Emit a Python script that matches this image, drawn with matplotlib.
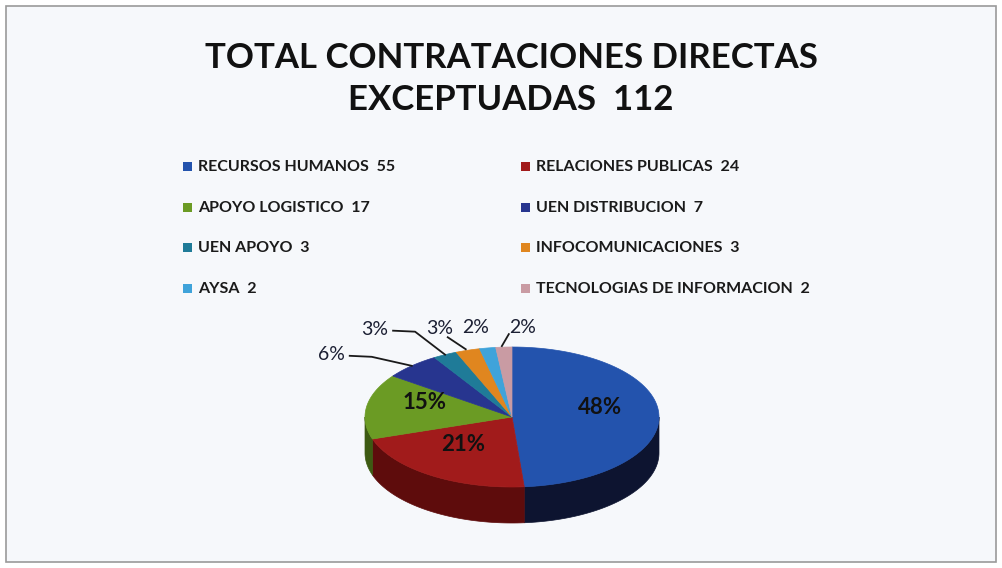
import numpy as np
import matplotlib.pyplot as plt
from matplotlib.patches import Polygon, Rectangle

# Chart data
categories = ['RECURSOS HUMANOS', 'RELACIONES PUBLICAS', 'APOYO LOGISTICO', 'UEN DISTRIBUCION',
              'UEN APOYO', 'INFOCOMUNICACIONES', 'AYSA', 'TECNOLOGIAS DE INFORMACION']
counts = [55, 24, 17, 7, 3, 3, 2, 2]
pct_labels = ['48%', '21%', '15%', '6%', '3%', '3%', '2%', '2%']
legend_labels = ['RECURSOS HUMANOS  55', 'RELACIONES PUBLICAS  24', 'APOYO LOGISTICO  17',
                 'UEN DISTRIBUCION  7', 'UEN APOYO  3', 'INFOCOMUNICACIONES  3', 'AYSA  2',
                 'TECNOLOGIAS DE INFORMACION  2']
title = 'TOTAL CONTRATACIONES DIRECTAS\nEXCEPTUADAS  112'

top_colors = ['#2353ad', '#a11b1b', '#6b9b24', '#27358f', '#1f7b98', '#e0861f', '#3fa3da', '#c99ba3']
side_colors = ['#0d1430', '#5e0c0c', '#3d5a12', '#151d55', '#104456', '#8a5010', '#22607f', '#7a5c60']

# pie geometry (pixels)
cx, cy, rx, ry, depth = 512, 417, 147, 70, 36

fig = plt.figure(figsize=(10.02, 5.68), dpi=100)
ax = fig.add_axes([0, 0, 1, 1])
ax.set_xlim(0, 1002)
ax.set_ylim(568, 0)
ax.axis('off')
fig.patch.set_facecolor('white')
ax.add_patch(Rectangle((6, 6), 990, 556, facecolor='#f6f8fb', edgecolor='#9a9a9a', lw=1.2))


def pt(theta, dy=0):
    return cx + rx * np.cos(theta), cy - ry * np.sin(theta) + dy


angles = np.cumsum([0] + counts) / sum(counts) * 2 * np.pi
starts = np.pi / 2 - angles[:-1]
ends = np.pi / 2 - angles[1:]

# side walls (front half only)
for i in range(len(counts)):
    a0, a1 = ends[i], starts[i]
    for k in (-2, -1, 0):
        lo = max(a0, 2 * np.pi * k - np.pi)
        hi = min(a1, 2 * np.pi * k)
        if hi > lo:
            t = np.linspace(lo, hi, 60)
            x, y = pt(t)
            xs = np.concatenate([x, x[::-1]])
            ys = np.concatenate([y, (y + depth)[::-1]])
            ax.add_patch(Polygon(np.column_stack([xs, ys]), closed=True,
                                 facecolor=side_colors[i], edgecolor=side_colors[i], lw=0.5))

# top face
for i in range(len(counts)):
    t = np.linspace(starts[i], ends[i], 80)
    x, y = pt(t)
    xs = np.concatenate([[cx], x])
    ys = np.concatenate([[cy], y])
    ax.add_patch(Polygon(np.column_stack([xs, ys]), closed=True,
                         facecolor=top_colors[i], edgecolor=top_colors[i], lw=0.5))

# percent labels
mids = (starts + ends) / 2
outside_offsets = {3: (-80, -11), 4: (-70, -25), 5: (-28, -22), 6: (-12, -20), 7: (19, -20)}
for i, lab in enumerate(pct_labels):
    if i in outside_offsets:
        ex, ey = pt(mids[i])
        dx, dy = outside_offsets[i]
        lx, ly = ex + dx, ey + dy
        ax.text(lx, ly, lab, ha='center', va='center', fontsize=14, color='#1b1f33',
                family='Lato')
        if i in (3, 4):
            ax.plot([lx + 18, lx + 40, ex], [ly + 1, ly + 2, ey], color='#1a1a1a', lw=1.3)
        elif i == 5:
            ax.plot([lx + 8, ex - 2], [ly + 9, ey - 1], color='#1a1a1a', lw=1.3)
        elif i == 7:
            ax.plot([lx - 14, ex - 2], [ly + 7, ey - 1], color='#1a1a1a', lw=1.3)
    else:
        x, y = pt(mids[i])
        x = cx + 0.6 * (x - cx)
        y = cy + 0.6 * (y - cy) - 8
        ax.text(x, y, lab, ha='center', va='center', fontsize=16, fontweight='bold',
                color='#111111', family='Lato')

# title
ax.text(511, 79, title, ha='center', va='center', fontsize=25, fontweight='bold',
        color='#111111', family='Lato', linespacing=1.35)

# legend (two columns, row-major order)
for i, lab in enumerate(legend_labels):
    col, row = i % 2, i // 2
    x0 = 188 if col == 0 else 526
    y0 = 167 + row * 40.7
    ax.add_patch(Rectangle((x0 - 5, y0 - 5), 9, 9, facecolor=top_colors[i], edgecolor='none'))
    ax.text(x0 + 10, y0, lab, ha='left', va='center', fontsize=11.5, fontweight='bold',
            color='#1a1a1a', family='Lato')

fig.savefig('out.png', dpi=100)
